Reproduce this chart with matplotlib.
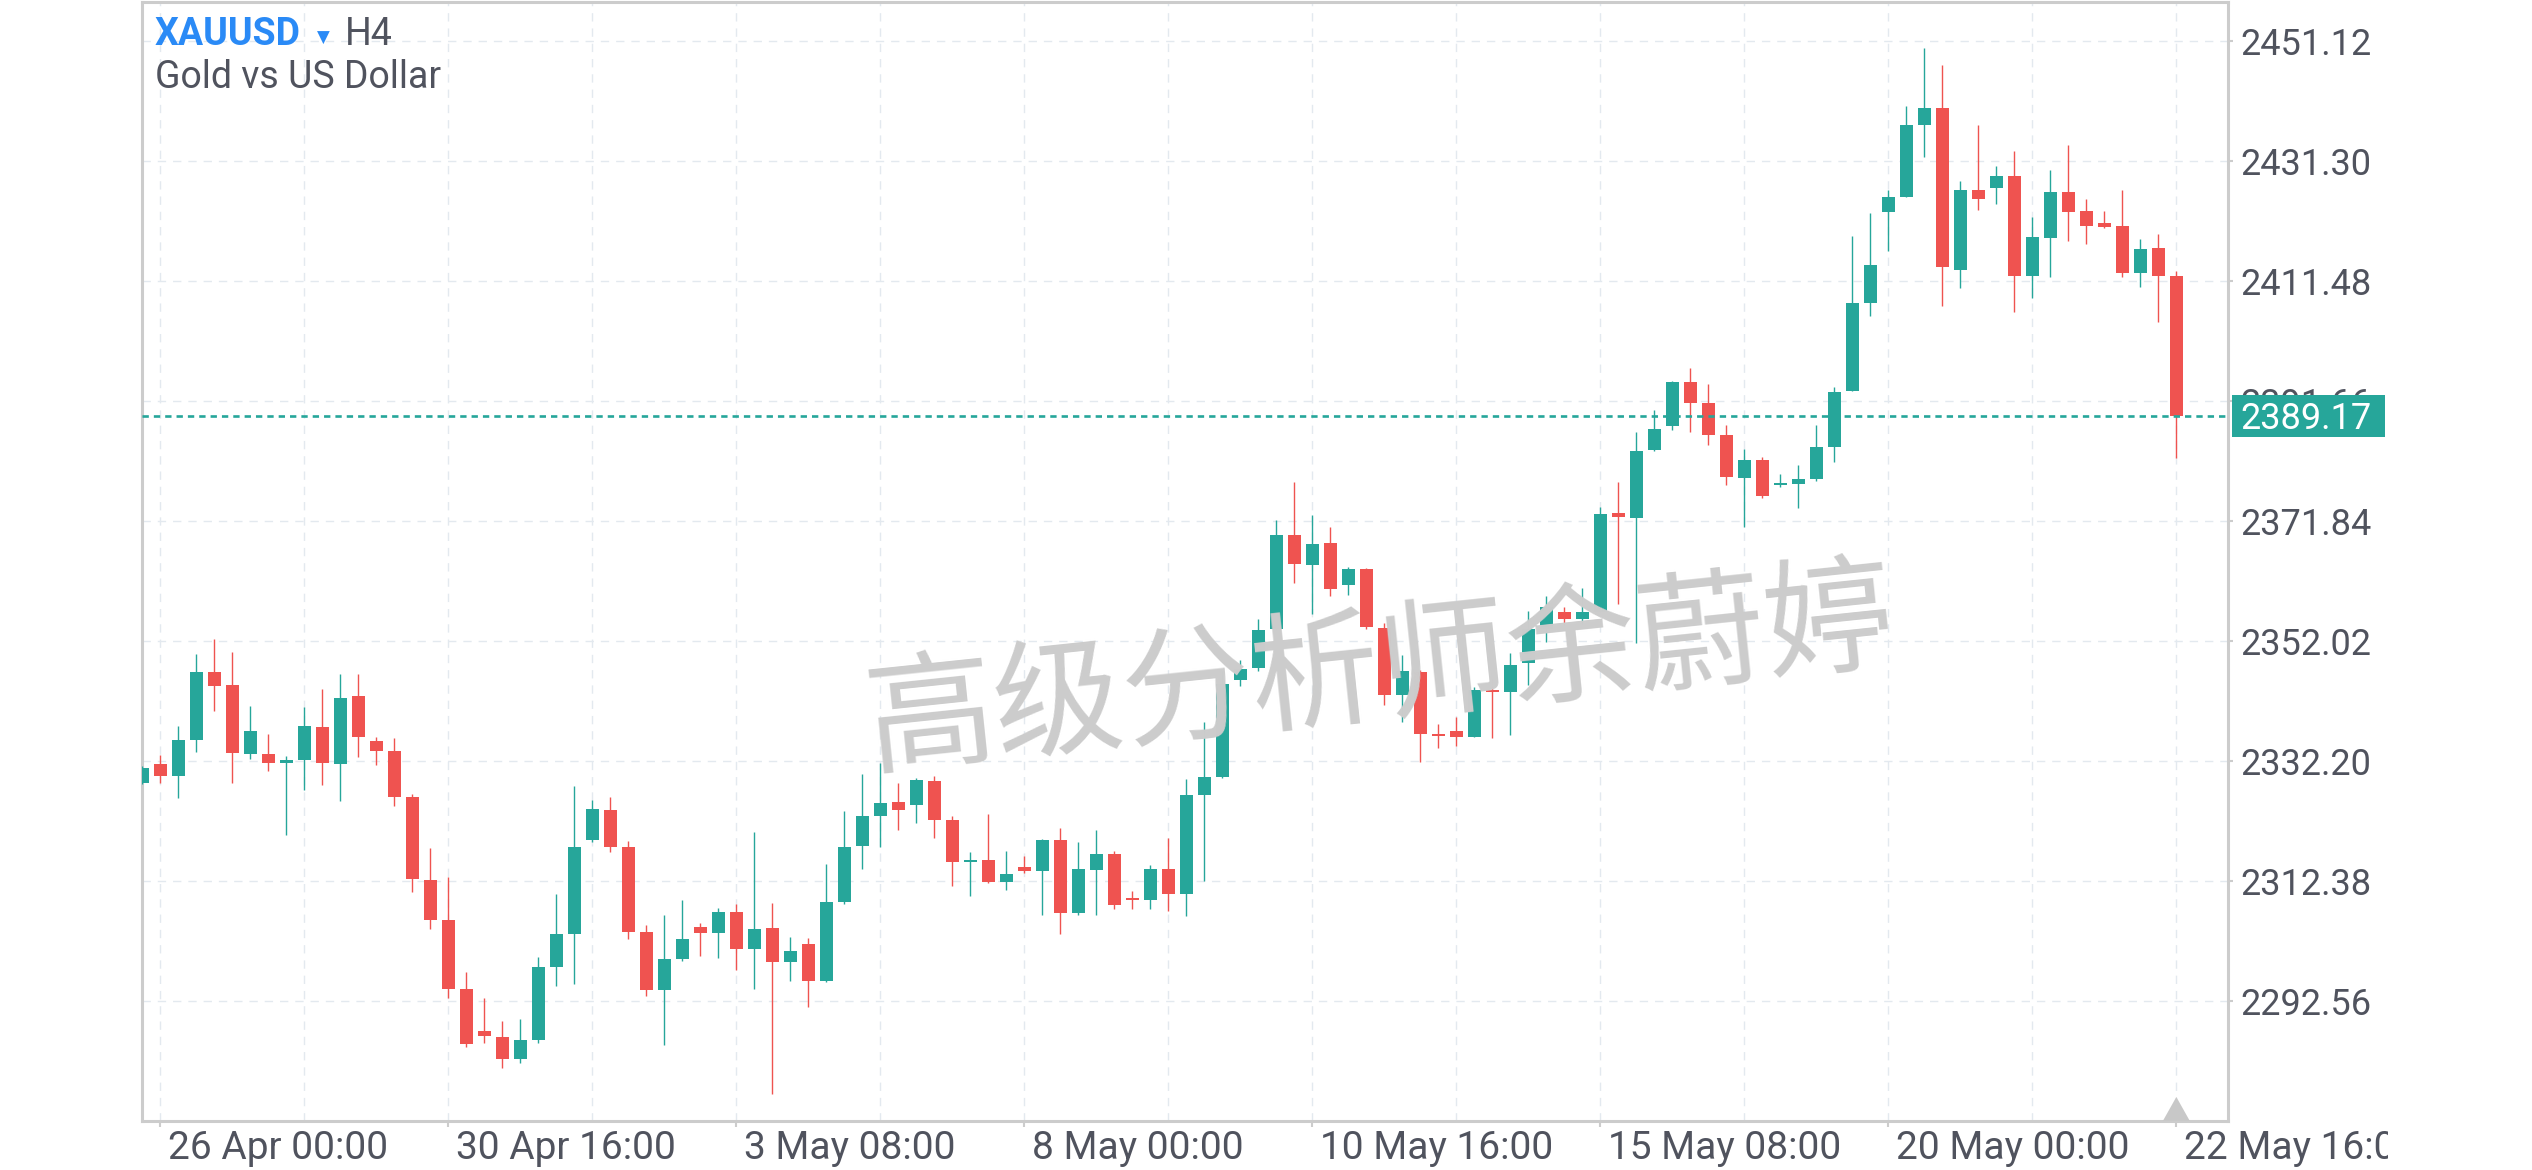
# XAUUSD H4 candlestick chart, drawn with matplotlib.
# ---------------------------------------------------------------------------------------------- #


# ---------------------------------------------------------------------------------------------- #
# We import modules as needed.
# ---------------------------------------------------------------------------------------------- #
import numpy as np
import matplotlib
matplotlib.use('Agg')
import matplotlib.pyplot as plt
from matplotlib import transforms
from matplotlib.patches import Rectangle, Polygon
# ---------------------------------------------------------------------------------------------- #


# ---------------------------------------------------------------------------------------------- #
# We define the candle data (prices).
# ---------------------------------------------------------------------------------------------- #
Opens = [2328.67, 2331.75, 2329.82, 2335.77, 2346.95, 2344.80, 2333.46, 2333.41, 2331.97, 2332.41,
         2337.87, 2331.80, 2342.99, 2335.55, 2333.90, 2326.30, 2312.60, 2305.99, 2294.59, 2287.66,
         2286.66, 2283.08, 2286.22, 2298.28, 2303.73, 2319.25, 2324.16, 2318.05, 2304.01, 2294.48,
         2299.60, 2304.83, 2303.89, 2307.31, 2301.25, 2304.67, 2299.10, 2302.02, 2295.96, 2309.01,
         2318.26, 2323.22, 2325.48, 2325.03, 2328.95, 2322.51, 2315.58, 2315.90, 2312.30, 2314.82,
         2314.13, 2319.19, 2307.18, 2314.26, 2316.86, 2309.52, 2309.33, 2314.40, 2310.35, 2326.65,
         2329.62, 2345.68, 2347.64, 2354.03, 2369.58, 2364.66, 2368.26, 2361.37, 2363.96, 2354.22,
         2343.20, 2346.95, 2336.71, 2337.20, 2336.26, 2343.98, 2343.70, 2348.39, 2354.10, 2356.86,
         2355.75, 2356.91, 2373.21, 2372.43, 2383.67, 2387.63, 2394.85, 2391.38, 2386.09, 2379.04,
         2381.96, 2377.88, 2378.05, 2378.88, 2384.16, 2393.41, 2407.95, 2422.98, 2425.45, 2437.34,
         2440.10, 2413.40, 2426.56, 2426.94, 2428.87, 2412.40, 2418.68, 2426.23, 2423.09, 2421.11,
         2420.61, 2412.90, 2416.98, 2412.35]
Highs = [2331.42, 2333.24, 2338.03, 2349.92, 2352.40, 2350.25, 2341.33, 2336.71, 2333.08, 2341.17,
         2344.14, 2346.62, 2346.62, 2336.21, 2336.05, 2326.80, 2317.88, 2313.09, 2297.40, 2293.11,
         2289.31, 2289.64, 2299.88, 2310.28, 2328.12, 2325.81, 2326.30, 2319.04, 2305.16, 2306.81,
         2309.29, 2305.49, 2307.97, 2308.63, 2320.52, 2308.80, 2303.18, 2303.02, 2315.24, 2323.99,
         2330.10, 2331.92, 2328.62, 2329.44, 2329.77, 2323.17, 2317.17, 2323.50, 2317.35, 2316.54,
         2319.30, 2321.15, 2318.87, 2320.84, 2317.35, 2310.78, 2315.02, 2319.52, 2329.24, 2338.66,
         2347.08, 2348.85, 2355.67, 2371.99, 2378.30, 2372.80, 2370.91, 2364.28, 2364.20, 2355.04,
         2349.76, 2347.28, 2338.36, 2339.52, 2344.52, 2345.79, 2350.09, 2357.02, 2359.50, 2357.69,
         2360.82, 2374.20, 2378.33, 2386.59, 2390.22, 2395.01, 2397.16, 2394.52, 2387.75, 2383.78,
         2382.51, 2379.65, 2381.14, 2387.75, 2394.02, 2418.96, 2422.76, 2426.56, 2440.43, 2450.01,
         2447.20, 2428.05, 2437.29, 2430.52, 2433.00, 2422.10, 2429.86, 2433.99, 2425.07, 2423.09,
         2426.56, 2418.47, 2419.29, 2413.18]
Lows = [2328.45, 2328.67, 2326.19, 2333.79, 2340.56, 2328.67, 2332.63, 2330.65, 2320.08, 2327.51,
        2328.34, 2325.69, 2332.96, 2331.64, 2324.87, 2310.66, 2304.55, 2293.15, 2285.06, 2285.72,
        2281.59, 2282.42, 2285.72, 2295.14, 2295.47, 2318.92, 2317.27, 2302.90, 2293.49, 2285.39,
        2299.27, 2300.09, 2299.76, 2297.78, 2294.64, 2277.30, 2295.96, 2291.67, 2295.80, 2308.68,
        2314.46, 2318.10, 2320.90, 2322.06, 2319.58, 2311.65, 2309.97, 2312.10, 2310.91, 2313.82,
        2306.80, 2303.71, 2306.80, 2306.80, 2307.82, 2307.82, 2307.82, 2307.51, 2306.68, 2312.36,
        2329.38, 2344.60, 2347.13, 2353.90, 2361.68, 2356.56, 2359.54, 2359.72, 2354.13, 2341.55,
        2338.74, 2332.13, 2334.45, 2334.78, 2336.21, 2336.10, 2336.59, 2344.85, 2351.95, 2354.76,
        2354.76, 2356.91, 2358.23, 2351.79, 2383.50, 2386.97, 2386.64, 2384.49, 2377.88, 2370.95,
        2375.74, 2377.55, 2374.09, 2378.55, 2381.68, 2393.41, 2405.80, 2416.53, 2425.45, 2432.06,
        2407.45, 2410.42, 2423.31, 2424.30, 2406.46, 2408.77, 2412.24, 2418.18, 2417.69, 2420.33,
        2412.24, 2410.59, 2404.81, 2382.34]
Closes = [2331.09, 2329.82, 2335.72, 2346.95, 2344.69, 2333.62, 2337.20, 2331.97, 2332.41, 2338.03,
          2331.97, 2342.66, 2336.26, 2333.95, 2326.35, 2312.81, 2306.04, 2294.64, 2285.56, 2286.88,
          2283.08, 2286.17, 2298.23, 2303.68, 2318.05, 2324.32, 2318.10, 2304.06, 2294.48, 2299.55,
          2302.85, 2303.89, 2307.31, 2301.25, 2304.50, 2299.10, 2300.87, 2295.96, 2308.96, 2318.05,
          2323.17, 2325.31, 2324.21, 2329.11, 2322.55, 2315.60, 2315.85, 2312.30, 2313.57, 2314.13,
          2319.19, 2307.18, 2314.40, 2316.86, 2308.52, 2309.33, 2314.40, 2310.35, 2326.58, 2329.56,
          2344.92, 2347.46, 2353.90, 2369.58, 2364.84, 2368.06, 2360.72, 2363.96, 2354.33, 2343.20,
          2347.11, 2336.76, 2336.38, 2336.26, 2343.98, 2343.70, 2348.11, 2354.05, 2357.69, 2355.75,
          2356.86, 2373.05, 2372.60, 2383.45, 2387.08, 2394.85, 2391.43, 2386.14, 2379.21, 2381.96,
          2376.07, 2378.05, 2378.83, 2384.11, 2393.20, 2407.90, 2414.17, 2425.40, 2437.29, 2440.10,
          2413.89, 2426.56, 2425.12, 2428.87, 2412.40, 2418.80, 2426.23, 2422.98, 2420.66, 2420.50,
          2412.90, 2416.81, 2412.40, 2389.17]

PriceTicks = [2292.56, 2312.38, 2332.20, 2352.02, 2371.84, 2391.66, 2411.48, 2431.30, 2451.12]
DateLabels = ['26 Apr 00:00', '30 Apr 16:00', '3 May 08:00', '8 May 00:00', '10 May 16:00',
              '15 May 08:00', '20 May 00:00', '22 May 16:00']
Symbol = 'XAUUSD'
Interval = 'H4'
Description = 'Gold vs US Dollar'
Watermark = '高级分析师余蔚婷'
# ---------------------------------------------------------------------------------------------- #


# ---------------------------------------------------------------------------------------------- #
# We define plot properties.
# ---------------------------------------------------------------------------------------------- #
UpColor = '#26a69a'
DownColor = '#ef5350'
GridColor = '#e3e9ef'
FrameColor = '#cccccc'
TextColor = '#50535e'
SymbolColor = '#2a8af6'
FontList = ['Roboto', 'DejaVu Sans']
plt.rcParams['font.family'] = FontList

FigW, FigH = 2532, 1170
AxLeft, AxRight, AxTop, AxBottom = 142, 2228, 2, 1121
# ---------------------------------------------------------------------------------------------- #


# ---------------------------------------------------------------------------------------------- #
# We build the figure and draw the candles.
# ---------------------------------------------------------------------------------------------- #
Fig = plt.figure(figsize=(FigW / 100, FigH / 100), dpi=100)
Fig.patch.set_facecolor('white')
Ax = Fig.add_axes([AxLeft / FigW, 1 - AxBottom / FigH,
                   (AxRight - AxLeft) / FigW, (AxBottom - AxTop) / FigH])

O = np.array(Opens)
H = np.array(Highs)
L = np.array(Lows)
C = np.array(Closes)
Index = np.arange(len(O))
Colors = np.where(C >= O, UpColor, DownColor)

Ax.vlines(Index, L, H, colors=Colors, linewidth=1.0, zorder=3)
Ax.bar(Index, np.maximum(np.abs(C - O), 0.3), bottom=np.minimum(O, C), width=0.72,
       color=Colors, linewidth=0, zorder=4)

# Last price line and its label.
LastPrice = Closes[-1]
LastIdx = Index[-1]
Ax.axhline(LastPrice, color=UpColor, linewidth=1.9, linestyle=(0, (2.4, 1.9)), zorder=5)
TransY = transforms.blended_transform_factory(Ax.transAxes, Ax.transData)
Ax.add_patch(Rectangle((1.0019, LastPrice - 3.47), 0.0733, 6.94, transform=TransY,
                       facecolor=UpColor, edgecolor='none', clip_on=False, zorder=10))
Ax.text(1.0058, LastPrice - 2.1, f'{LastPrice:.2f}', transform=TransY, color='white',
        fontsize=26, ha='left', va='baseline', clip_on=False, zorder=11)

# Little marker under the last candle.
TransX = transforms.blended_transform_factory(Ax.transData, Ax.transAxes)
Ax.add_patch(Polygon([(LastIdx - 0.75, 0), (LastIdx + 0.75, 0), (LastIdx, 0.0215)],
                     closed=True, transform=TransX, facecolor='#c8c8c8', edgecolor='none',
                     zorder=6))

# Watermark.
Ax.text(0.5935, 0.3995, Watermark, transform=Ax.transAxes, fontsize=93, rotation=6,
        rotation_mode='anchor', ha='center', va='center', color='#cccccc',
        family=['Noto Sans CJK SC', 'DejaVu Sans'], zorder=20)
# ---------------------------------------------------------------------------------------------- #


# ---------------------------------------------------------------------------------------------- #
# We configure the axes.
# ---------------------------------------------------------------------------------------------- #
Ax.set_xlim(-0.017, 115.87)
Ax.set_ylim(2272.79, 2457.61)

MajorX = np.arange(1, len(O) + 1, 16)
MinorX = np.arange(9, len(O) + 1, 16)
Ax.set_xticks(MajorX)
Ax.set_xticks(MinorX, minor=True)
Ax.set_xticklabels(DateLabels)

Ax.yaxis.tick_right()
Ax.set_yticks(PriceTicks)
Ax.set_yticklabels([f'{p:.2f}' for p in PriceTicks])

Ax.tick_params(axis='y', which='major', length=3.6, width=1.5, color=FrameColor, pad=5,
               labelsize=26, labelcolor=TextColor)
Ax.tick_params(axis='x', which='major', length=4.3, width=1.5, color=FrameColor, pad=2,
               labelsize=28, labelcolor=TextColor)
Ax.tick_params(axis='x', which='minor', length=0)

Ax.grid(True, which='both', color=GridColor, linewidth=1.0, linestyle=(0, (6, 5)), zorder=0)
Ax.set_axisbelow(True)

for Spine in Ax.spines.values():
    Spine.set_color(FrameColor)
    Spine.set_linewidth(2.2)

# Date labels start just right of their tick; the last one is cut by the panel edge.
Offset = transforms.ScaledTranslation(8 / 100, 0, Fig.dpi_scale_trans)
ClipBox = transforms.TransformedBbox(transforms.Bbox.from_extents(0, 0, 2388 / FigW, 1),
                                     Fig.transFigure)
for Label in Ax.get_xticklabels():
    Label.set_horizontalalignment('left')
    Label.set_transform(Label.get_transform() + Offset)
    Label.set_clip_box(ClipBox)
    Label.set_clip_on(True)
# ---------------------------------------------------------------------------------------------- #


# ---------------------------------------------------------------------------------------------- #
# We add the header texts.
# ---------------------------------------------------------------------------------------------- #
Fig.text(155 / FigW, 1 - 45 / FigH, Symbol, fontsize=27, fontweight='bold', color=SymbolColor,
         va='baseline', ha='left')
Fig.text(317 / FigW, 1 - 43 / FigH, '▼', fontsize=12, color=SymbolColor, va='baseline',
         ha='left', family=['DejaVu Sans'])
Fig.text(345 / FigW, 1 - 45 / FigH, Interval, fontsize=27, color=TextColor, va='baseline',
         ha='left')
Fig.text(155 / FigW, 1 - 88 / FigH, Description, fontsize=27, color=TextColor, va='baseline',
         ha='left')

Fig.savefig('out.png', dpi=100)
# ---------------------------------------------------------------------------------------------- #
